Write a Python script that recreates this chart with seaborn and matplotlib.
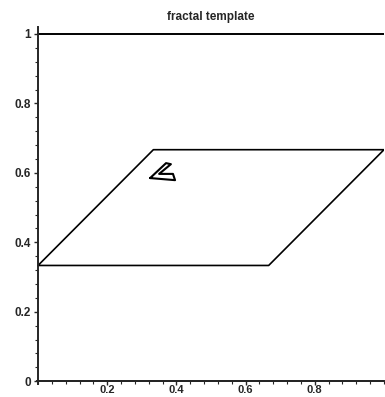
import matplotlib
matplotlib.use("Agg")
import numpy as np
import pandas as pd
import seaborn as sns
import matplotlib.pyplot as plt
from matplotlib.ticker import MultipleLocator

# outline of the template square (top and bottom edges)
frame_x = [0, 1, np.nan, 0, 1]
frame_y = [1, 1, np.nan, 0, 0]

# the parallelogram
para_x = [0, 2/3, 1, 1/3, 0]
para_y = [1/3, 1/3, 2/3, 2/3, 1/3]

# small chevron marker inside
chev_x = [0.324, 0.370, 0.384, 0.350, 0.390, 0.396, 0.324]
chev_y = [0.585, 0.628, 0.625, 0.597, 0.597, 0.579, 0.585]

x_ticks = [0.2, 0.4, 0.6, 0.8]
x_labels = ["0.2", "0.4", "0.6", "0.8"]
y_ticks = [0, 0.2, 0.4, 0.6, 0.8, 1]
y_labels = ["0", "0.2", "0.4", "0.6", "0.8", "1"]

sns.set_style("ticks")
plt.rcParams["font.family"] = ["Liberation Sans", "DejaVu Sans"]

W, H = 385, 397
fig = plt.figure(figsize=(W / 100, H / 100), dpi=100)
# pixel box of the axes: x from 37 to 384, y from 27 to 384
ax = fig.add_axes([37 / W, 1 - 384 / H, 347 / W, 357 / H])

para = pd.DataFrame({"x": para_x, "y": para_y})
chev = pd.DataFrame({"x": chev_x, "y": chev_y})

ax.plot(frame_x, frame_y, color="black", lw=1.4)
sns.lineplot(data=para, x="x", y="y", sort=False, estimator=None, color="black", lw=1.2, ax=ax)
sns.lineplot(data=chev, x="x", y="y", sort=False, estimator=None, color="black", lw=1.5, ax=ax)

ax.set_xlim(-0.003, 1.0)
ax.set_ylim(-0.008, 1.02)
ax.set_xlabel("")
ax.set_ylabel("")

for s in ["top", "right"]:
    ax.spines[s].set_visible(False)
ax.spines["left"].set_position(("data", 0))
ax.spines["bottom"].set_position(("data", 0))
ax.spines["left"].set_linewidth(1.4)
ax.spines["bottom"].set_linewidth(1.4)

ax.set_xticks(x_ticks)
ax.set_xticklabels(x_labels, fontsize=8, fontweight="bold")
ax.set_yticks(y_ticks)
ax.set_yticklabels(y_labels, fontsize=8.5, fontweight="bold")
ax.xaxis.set_minor_locator(MultipleLocator(0.04))
ax.yaxis.set_minor_locator(MultipleLocator(0.04))
ax.tick_params(which="major", length=3, width=1, direction="out")
ax.tick_params(axis="x", which="major", pad=0)
ax.tick_params(axis="y", which="major", pad=2)
ax.tick_params(which="minor", length=2, width=0.8, direction="out")

ax.set_title("fractal template", fontsize=8.5, fontweight="bold", pad=5)

fig.savefig("out.png", dpi=100)
